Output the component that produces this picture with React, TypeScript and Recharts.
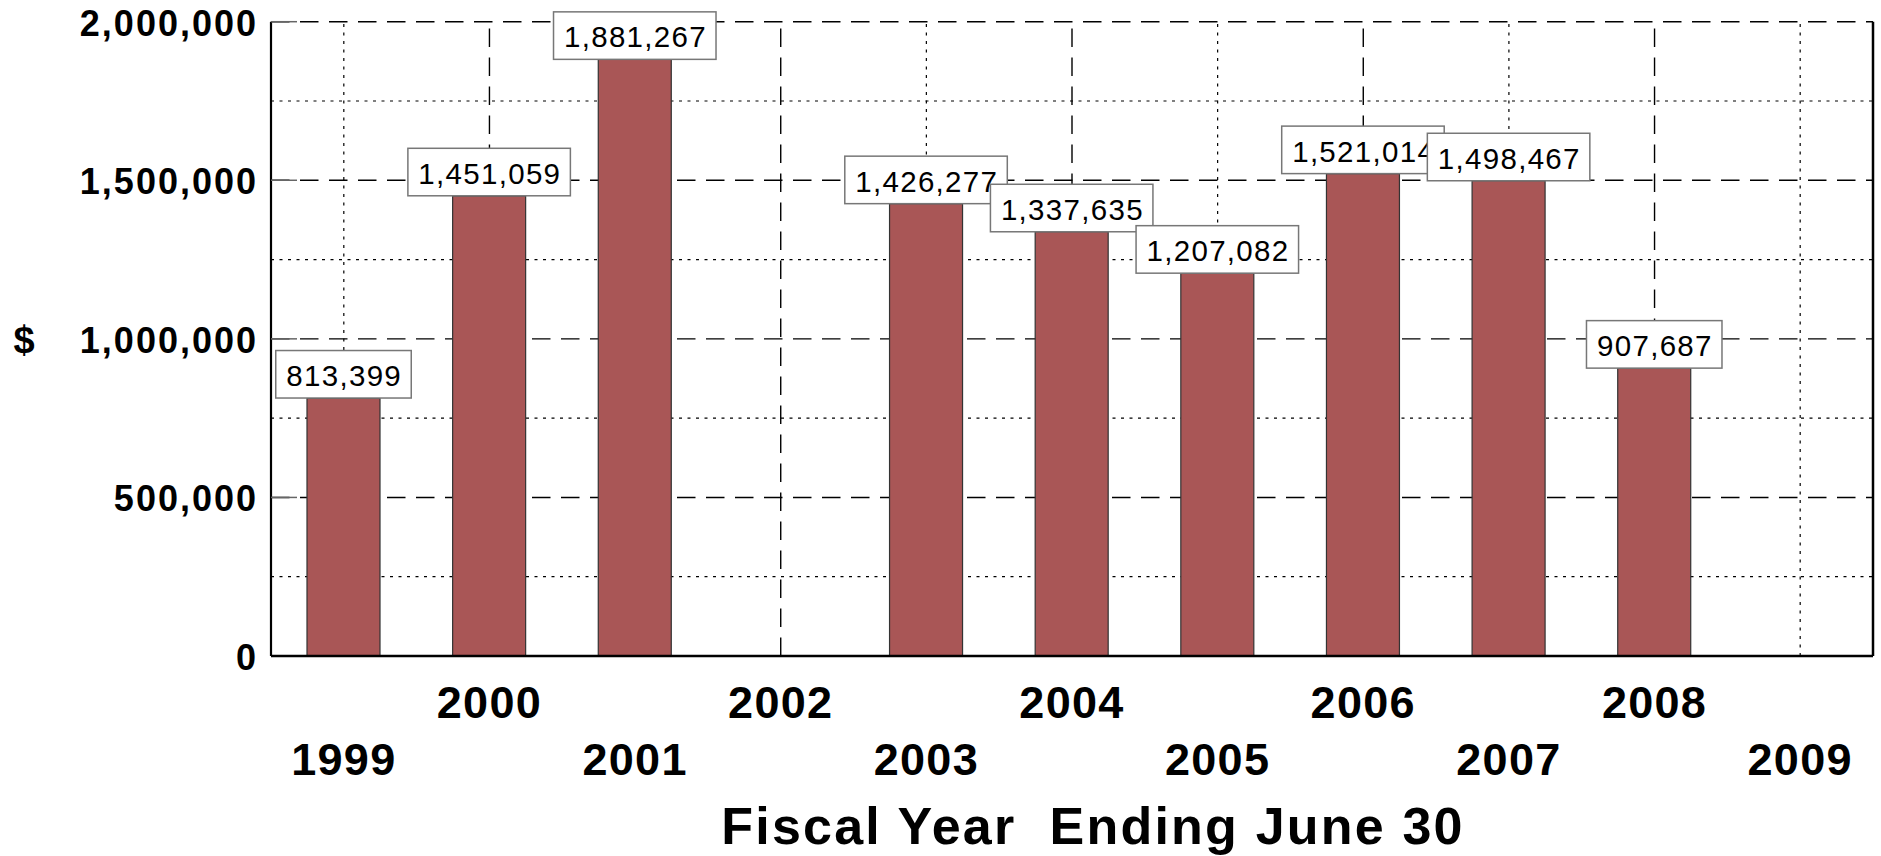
import React from 'react';
import {
  BarChart,
  Bar,
  XAxis,
  YAxis,
  ReferenceLine,
  LabelList,
  Label,
} from 'recharts';

const years = ['1999', '2000', '2001', '2002', '2003', '2004', '2005', '2006', '2007', '2008', '2009'];
const amounts = [813399, 1451059, 1881267, null, 1426277, 1337635, 1207082, 1521014, 1498467, 907687, null];
const yTicks = [0, 500000, 1000000, 1500000, 2000000];
const majorLines = [500000, 1000000, 1500000, 2000000];
const minorLines = [250000, 750000, 1250000, 1750000];

const data = years.map((year, i) => ({ year, amount: amounts[i] }));

const FONT = '"Liberation Sans", Arial, Helvetica, sans-serif';
const BAR_FILL = '#A95656';

const fmt = (v: number) => v.toLocaleString('en-US');

// rough text width for the value boxes (29px + letter spacing)
const textWidth = (s: string) =>
  s.split('').reduce((w, ch) => w + (ch === ',' ? 9.5 : 17.5), 0);

const YTick = (props: any) => {
  const { x, y, payload } = props;
  return (
    <g>
      {payload.value > 0 && (
        <line x1={x} x2={x + 26} y1={y} y2={y} stroke="#666" strokeWidth={1.5} />
      )}
      <text
        x={x - 13}
        y={y + 14}
        textAnchor="end"
        fontFamily={FONT}
        fontWeight="bold"
        fontSize={36}
        letterSpacing={2}
        fill="#000"
      >
        {fmt(payload.value)}
      </text>
    </g>
  );
};

const XTick = (props: any) => {
  const { x, y, payload } = props;
  const even = Number(payload.value) % 2 === 0;
  return (
    <text
      x={x}
      y={y + (even ? 62 : 119)}
      textAnchor="middle"
      fontFamily={FONT}
      fontWeight="bold"
      fontSize={45}
      letterSpacing={1.3}
      fill="#000"
    >
      {payload.value}
    </text>
  );
};

const ValueBox = (props: any) => {
  const { x, y, width, value } = props;
  if (value == null) return null;
  const label = fmt(value);
  const w = textWidth(label) + 21;
  const h = 47.5;
  const cx = x + width / 2;
  return (
    <g>
      <rect x={cx - w / 2} y={y - h} width={w} height={h} fill="#fff" stroke="#777" strokeWidth={1.5} />
      <text
        x={cx + 0.7}
        y={y - 12}
        textAnchor="middle"
        fontFamily={FONT}
        fontSize={29.5}
        letterSpacing={1.3}
        fill="#000"
      >
        {label}
      </text>
    </g>
  );
};

export default function App() {
  return (
    <div style={{ position: 'absolute', left: 0, top: 0, background: '#fff' }}>
      <BarChart
        width={1881}
        height={856}
        data={data}
        margin={{ top: 21.7, right: 7, left: 0, bottom: 0 }}
      >
        {minorLines.map((v) => (
          <ReferenceLine key={'mn' + v} y={v} stroke="#000" strokeWidth={1.2} strokeDasharray="3 5.5" zIndex={-90} />
        ))}
        {majorLines.map((v) => (
          <ReferenceLine key={'mj' + v} y={v} stroke="#000" strokeWidth={1.4} strokeDasharray="18.5 10.5" zIndex={-90} />
        ))}
        {years.map((yr) => (
          <ReferenceLine
            key={'v' + yr}
            x={yr}
            stroke="#000"
            strokeWidth={Number(yr) % 2 === 0 ? 1.4 : 1.2}
            strokeDasharray={Number(yr) % 2 === 0 ? '18.5 10.5' : '3 5.5'}
            zIndex={-90}
          />
        ))}
        <XAxis
          dataKey="year"
          height={200}
          interval={0}
          tickLine={false}
          tickSize={0}
          tickMargin={0}
          axisLine={{ stroke: '#000', strokeWidth: 2.5 }}
          tick={<XTick />}
        >
          <Label
            content={(p: any) => {
              const vb = p.viewBox;
              return (
                <text
                  x={vb.x + vb.width / 2 + 21}
                  y={vb.y + 188}
                  textAnchor="middle"
                  fontFamily={FONT}
                  fontWeight="bold"
                  fontSize={52}
                  letterSpacing={2.2}
                  fill="#000"
                  style={{ whiteSpace: 'pre' }}
                >
                  {'Fiscal Year  Ending June 30'}
                </text>
              );
            }}
          />
        </XAxis>
        <YAxis
          width={271}
          domain={[0, 2000000]}
          ticks={yTicks}
          interval={0}
          tickLine={false}
          tickSize={0}
          tickMargin={0}
          axisLine={{ stroke: '#000', strokeWidth: 2.2 }}
          tick={<YTick />}
        >
          <Label
            content={(p: any) => {
              const vb = p.viewBox;
              return (
                <text
                  x={vb.x + 24}
                  y={vb.y + vb.height / 2 + 14}
                  textAnchor="middle"
                  fontFamily={FONT}
                  fontWeight="bold"
                  fontSize={38}
                  fill="#000"
                >
                  $
                </text>
              );
            }}
          />
        </YAxis>
        {/* right frame edge */}
        <YAxis
          yAxisId="right"
          orientation="right"
          width={1}
          domain={[0, 1]}
          ticks={[0, 1]}
          tick={false}
          tickLine={false}
          axisLine={{ stroke: '#000', strokeWidth: 2.5 }}
        />
        <Bar
          dataKey="amount"
          fill={BAR_FILL}
          stroke="#333"
          strokeWidth={1.2}
          barSize={73}
          isAnimationActive={false}
        >
          <LabelList dataKey="amount" content={<ValueBox />} />
        </Bar>
      </BarChart>
    </div>
  );
}
